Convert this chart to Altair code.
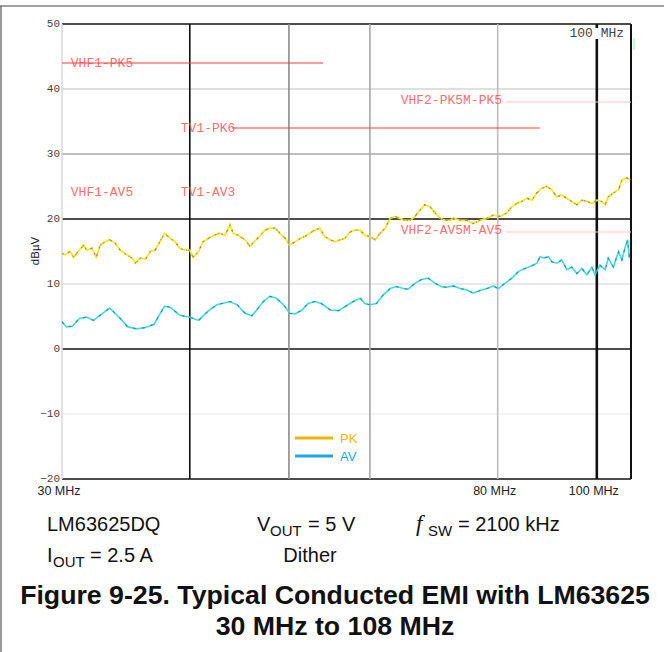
import altair as alt
import pandas as pd

# ---- measured traces (frequency in MHz, level in dBµV) ----
pk_freq = [30.0, 30.2, 30.55, 30.8, 31.1, 31.5, 31.7, 32.1, 32.4, 32.7, 33.05, 33.4, 33.8,
           34.2, 34.7, 35.1, 35.4, 35.8, 36.2, 36.6, 37.0, 37.4, 37.8, 38.3, 38.7, 39.1,
           39.6, 40.0, 40.3, 40.8, 41.2, 41.7, 42.2, 42.8, 43.3, 43.8, 44.1, 44.6, 45.3,
           45.8, 46.3, 46.85, 47.4, 47.9, 48.5, 49.0, 49.6, 50.1, 50.7, 51.3, 51.8, 52.4,
           53.0, 53.6, 54.2, 54.85, 55.5, 56.1, 56.7, 57.4, 58.0, 58.7, 59.3, 60.0, 60.7,
           61.4, 62.1, 62.8, 63.5, 64.2, 64.9, 65.7, 66.4, 67.2, 67.9, 68.7, 69.5, 70.3,
           71.05, 71.9, 72.4, 73.5, 74.6, 75.7, 76.9, 78.05, 79.2, 80.4, 81.6, 82.6, 83.5,
           84.45, 85.4, 86.4, 87.35, 88.3, 89.3, 90.35, 91.4, 92.4, 93.45, 94.5, 95.6,
           96.7, 97.8, 98.9, 100.0, 101.1, 101.9, 102.6, 103.8, 105.0, 105.8, 107.0, 107.8]
pk_db = [14.7, 14.5, 15.0, 14.1, 15.0, 16.0, 15.2, 15.5, 14.1, 16.0, 16.5, 16.8, 16.3,
         15.2, 14.5, 14.0, 13.2, 14.0, 13.8, 15.0, 15.2, 16.5, 17.8, 17.0, 16.5, 15.5,
         15.2, 15.2, 14.1, 15.0, 16.5, 17.0, 17.5, 17.8, 17.5, 19.1, 17.8, 17.5, 16.8,
         15.8, 16.6, 17.4, 18.3, 18.6, 18.6, 17.8, 17.0, 16.0, 16.5, 17.0, 17.3, 17.8,
         18.3, 18.6, 17.3, 16.8, 16.5, 16.8, 17.0, 18.0, 18.3, 18.3, 17.5, 17.3, 16.8,
         17.8, 18.6, 20.1, 20.4, 20.1, 19.8, 19.8, 20.4, 21.4, 22.2, 21.9, 20.9, 20.1,
         19.8, 19.8, 20.1, 19.8, 19.8, 19.3, 19.8, 20.1, 20.6, 20.4, 20.9, 21.9, 22.4,
         22.7, 23.2, 22.9, 24.0, 24.7, 25.0, 24.5, 23.4, 23.7, 23.2, 22.7, 22.2,
         22.9, 22.7, 22.4, 22.9, 22.7, 22.2, 23.4, 24.0, 24.5, 26.0, 26.3, 26.0]

av_freq = [30.0, 30.3, 30.7, 31.2, 31.7, 32.2, 32.7, 33.4, 34.2, 34.8, 35.5, 36.2, 36.9,
           37.3, 37.8, 38.3, 39.1, 40.0, 40.8, 41.6, 42.5, 43.8, 44.5, 45.3, 46.0, 46.5,
           47.2, 47.9, 48.6, 49.4, 50.1, 50.7, 51.5, 52.2, 53.0, 53.8, 54.9, 55.9, 56.7,
           57.8, 58.7, 59.3, 60.0, 60.9, 61.8, 62.8, 63.7, 64.7, 65.4, 66.4, 67.4, 68.4,
           69.5, 70.5, 71.3, 72.4, 73.5, 74.6, 75.7, 76.9, 78.1, 79.2, 80.1, 81.3, 82.6,
           83.8, 85.1, 86.4, 87.4, 88.0, 88.7, 89.7, 90.4, 91.4, 92.4, 93.5, 94.5, 95.6,
           96.7, 97.8, 98.9, 99.6, 100.7, 101.9, 102.6, 103.8, 105.0, 105.8, 106.6, 107.2,
           107.6]
av_db = [4.2, 3.4, 3.5, 4.7, 4.9, 4.4, 5.2, 6.3, 4.7, 3.4, 3.1, 3.3, 3.8,
         5.1, 6.6, 6.4, 5.2, 4.9, 4.4, 5.7, 6.8, 7.3, 6.8, 5.5, 5.1, 6.0,
         7.3, 8.1, 7.8, 6.8, 5.5, 5.4, 6.0, 7.0, 7.3, 7.0, 6.0, 5.9, 6.5,
         7.3, 7.8, 7.0, 6.8, 7.0, 8.3, 9.3, 9.6, 9.3, 9.2, 10.1, 10.7, 10.9,
         10.1, 9.6, 9.5, 9.7, 9.3, 9.1, 8.6, 9.0, 9.3, 9.7, 9.3, 10.1, 10.9,
         11.9, 12.4, 12.8, 13.2, 14.2, 14.0, 14.2, 13.4, 13.2, 13.7, 12.2, 12.6, 11.6,
         12.4, 11.4, 12.6, 11.4, 12.9, 12.2, 14.0, 12.6, 15.0, 13.7, 15.7, 16.8,
         14.0]

# ---- limit lines: label, start MHz, stop MHz, level dBµV ----
limit_label = ["VHF1-PK5", "TV1-PK6"]
limit_start = [30.0, 44.0]
limit_stop = [54.0, 88.0]
limit_level = [44.0, 34.0]

faint_label = ["VHF2-PK5M-PK5", "VHF2-AV5M-AV5"]
faint_start = [81.5, 81.5]
faint_stop = [108.0, 108.0]
faint_level = [38.0, 18.0]

# limit captions: text, anchor MHz, level dBµV
tag_text = ["VHF1-PK5", "TV1-PK6", "VHF2-PK5M-PK5", "VHF1-AV5", "TV1-AV3", "VHF2-AV5M-AV5"]
tag_freq = [30.6, 39.2, 64.3, 30.6, 39.2, 64.3]
tag_level = [44.0, 34.0, 38.3, 24.2, 24.2, 18.3]

# ---- grid ----
hgrid_db = [50, 40, 30, 20, 10, 0, -10, -20]
hgrid_color = ["#111111", "#d4d4d4", "#a8a8a8", "#111111", "#e2e2e2", "#111111", "#efefef", "#111111"]
vgrid_mhz = [30, 40, 50, 60, 80, 100, 108]
vgrid_color = ["#d8d8d8", "#111111", "#8c8c8c", "#a8a8a8", "#bdbdbd", "#111111", "#111111"]
vgrid_width = [1.5, 1.6, 1.6, 1.6, 1.6, 2.6, 2.0]

xlabel_mhz = [30, 80, 100]
ytick_db = [50, 40, 30, 20, 10, 0, -10, -20]

W, H = 569, 455
xs = alt.Scale(type="log", domain=[30, 108], nice=False, zero=False)
ys = alt.Scale(domain=[-20, 50], nice=False, zero=False)

pk = pd.DataFrame({"f": pk_freq, "db": pk_db})
av = pd.DataFrame({"f": av_freq, "db": av_db})
hg = pd.DataFrame({"db": hgrid_db, "c": hgrid_color})
vg = pd.DataFrame({"f": vgrid_mhz, "c": vgrid_color, "w": vgrid_width})
lim = pd.DataFrame({"label": limit_label, "f0": limit_start, "f1": limit_stop, "db": limit_level})
faint = pd.DataFrame({"label": faint_label, "f0": faint_start, "f1": faint_stop, "db": faint_level})
tags = pd.DataFrame({"t": tag_text, "f": tag_freq, "db": tag_level})
xl = pd.DataFrame({"f": xlabel_mhz, "t": [f"{v} MHz" for v in xlabel_mhz]})
yt = pd.DataFrame({"db": ytick_db})

X = lambda field: alt.X(field, type="quantitative", scale=xs, axis=None)
Y = lambda field: alt.Y(field, type="quantitative", scale=ys, axis=None)

hgrid = alt.Chart(hg).mark_rule(strokeWidth=1.6).encode(
    y=Y("db"), color=alt.Color("c:N", scale=None))
vgrid = alt.Chart(vg).mark_rule().encode(
    x=X("f"), color=alt.Color("c:N", scale=None),
    strokeWidth=alt.StrokeWidth("w:Q", scale=None))

limits = alt.Chart(lim).mark_rule(color="#ff3a3a", strokeWidth=1.1).encode(
    x=X("f0"), x2="f1", y=Y("db"))
faints = alt.Chart(faint).mark_rule(color="#ffc4c4", strokeWidth=1).encode(
    x=X("f0"), x2="f1", y=Y("db"))
tag_marks = alt.Chart(tags).mark_text(
    font="Liberation Mono", fontSize=13, color="#ff4a4a", align="left", baseline="middle",
    opacity=0.8).encode(x=X("f"), y=Y("db"), text="t:N")

# peak trace: bright yellow with grey and red flecks
pk_yel = alt.Chart(pk).mark_line(color="#f4ec14", strokeWidth=1.8).encode(x=X("f"), y=Y("db"))
pk_grey = alt.Chart(pk).mark_line(color="#909088", strokeWidth=1.1, strokeDash=[2, 5]).encode(
    x=X("f"), y=Y("db"))
pk_red = alt.Chart(pk).mark_line(color="#ff5030", strokeWidth=1.3, strokeDash=[1, 11],
                                 strokeDashOffset=5).encode(x=X("f"), y=Y("db"))
# average trace: cyan with darker teal flecks
av_cy = alt.Chart(av).mark_line(color="#36dfe8", strokeWidth=1.6).encode(x=X("f"), y=Y("db"))
av_teal = alt.Chart(av).mark_line(color="#3d8a90", strokeWidth=1.1, strokeDash=[3, 6]).encode(
    x=X("f"), y=Y("db"))

# frequency marker text at 100 MHz, on a white gap in its line
marker_gap = alt.Chart(pd.DataFrame({"f": [100]})).mark_rule(color="white", strokeWidth=4).encode(
    x=X("f"), y=alt.value(4), y2=alt.value(15))
marker_txt = alt.Chart(pd.DataFrame({"f": [100]})).mark_text(
    font="Liberation Mono", fontSize=13, color="#444444", align="center", baseline="middle").encode(
    x=X("f"), y=alt.value(9), text=alt.value("100 MHz"))

ylabels = alt.Chart(yt).mark_text(
    font="Liberation Mono", fontSize=11, color="#444444", align="right", baseline="middle",
    dx=-2).encode(x=alt.value(0), y=Y("db"), text=alt.Text("db:Q", format="d"))
xlabels = alt.Chart(xl).mark_text(
    font="Liberation Sans", fontSize=12.5, color="#222222", align="center", baseline="middle",
    dx=-3).encode(x=X("f"), y=alt.value(467), text="t:N")


def note(text, x, y, size=20, align="left", weight="normal", style="normal",
         font="Liberation Sans", color="#111111", baseline="alphabetic", angle=0):
    return alt.Chart(pd.DataFrame({"t": [text]})).mark_text(
        font=font, fontSize=size, align=align, fontWeight=weight, fontStyle=style,
        color=color, baseline=baseline, angle=angle).encode(
        x=alt.value(x), y=alt.value(y), text="t:N")


def hline(x0, x1, y, color, width):
    return alt.Chart(pd.DataFrame({"t": [0]})).mark_rule(color=color, strokeWidth=width).encode(
        x=alt.value(x0), x2=alt.value(x1), y=alt.value(y))


ytitle = note("dBµV", -26, 227, size=11.5, align="center", baseline="middle", angle=270)

legend = [
    hline(233, 271, 414, "#f5b400", 3), note("PK", 278, 419, size=13, color="#f5b400"),
    hline(233, 271, 432, "#1aa6e6", 3), note("AV", 278, 437, size=13, color="#1aa6e6"),
]

captions = [
    note("LM63625DQ", -15, 507),
    note("V", 195, 507), note("OUT", 208, 512, size=15), note("= 5 V", 246, 507),
    note("f", 354, 507, size=23, style="italic", font="Liberation Serif"),
    note("SW", 366, 512, size=15), note("= 2100 kHz", 396, 507),
    note("I", -15, 538), note("OUT", -9, 543, size=15), note("= 2.5 A", 28, 538),
    note("Dither", 248, 538, align="center"),
    note("Figure 9-25. Typical Conducted EMI with LM63625", 273, 580, size=26.7,
         align="center", weight="bold"),
    note("30 MHz to 108 MHz", 273, 611, size=26.7, align="center", weight="bold"),
]

frame = [
    hline(-62, 602, -18, "#444444", 1.2),
    alt.Chart(pd.DataFrame({"t": [0]})).mark_rule(color="#555555", strokeWidth=1.2).encode(
        x=alt.value(-61), y=alt.value(-18), y2=alt.value(628)),
    alt.Chart(pd.DataFrame({"t": [0]})).mark_rule(color="#a8f0a8", strokeWidth=1.2).encode(
        x=alt.value(572), y=alt.value(14), y2=alt.value(26)),
]

chart = alt.layer(
    hgrid, vgrid, faints, limits, tag_marks,
    pk_yel, pk_grey, pk_red, av_cy, av_teal,
    marker_gap, marker_txt, ylabels, xlabels, ytitle,
    *legend, *captions, *frame,
).properties(
    width=W, height=H,
    autosize=alt.AutoSizeParams(type="none"),
    padding={"left": 62, "top": 24, "right": 33, "bottom": 173},
    background="white",
).configure_view(stroke=None)

chart.save("out.html", embed_options={"renderer": "svg", "actions": False})
